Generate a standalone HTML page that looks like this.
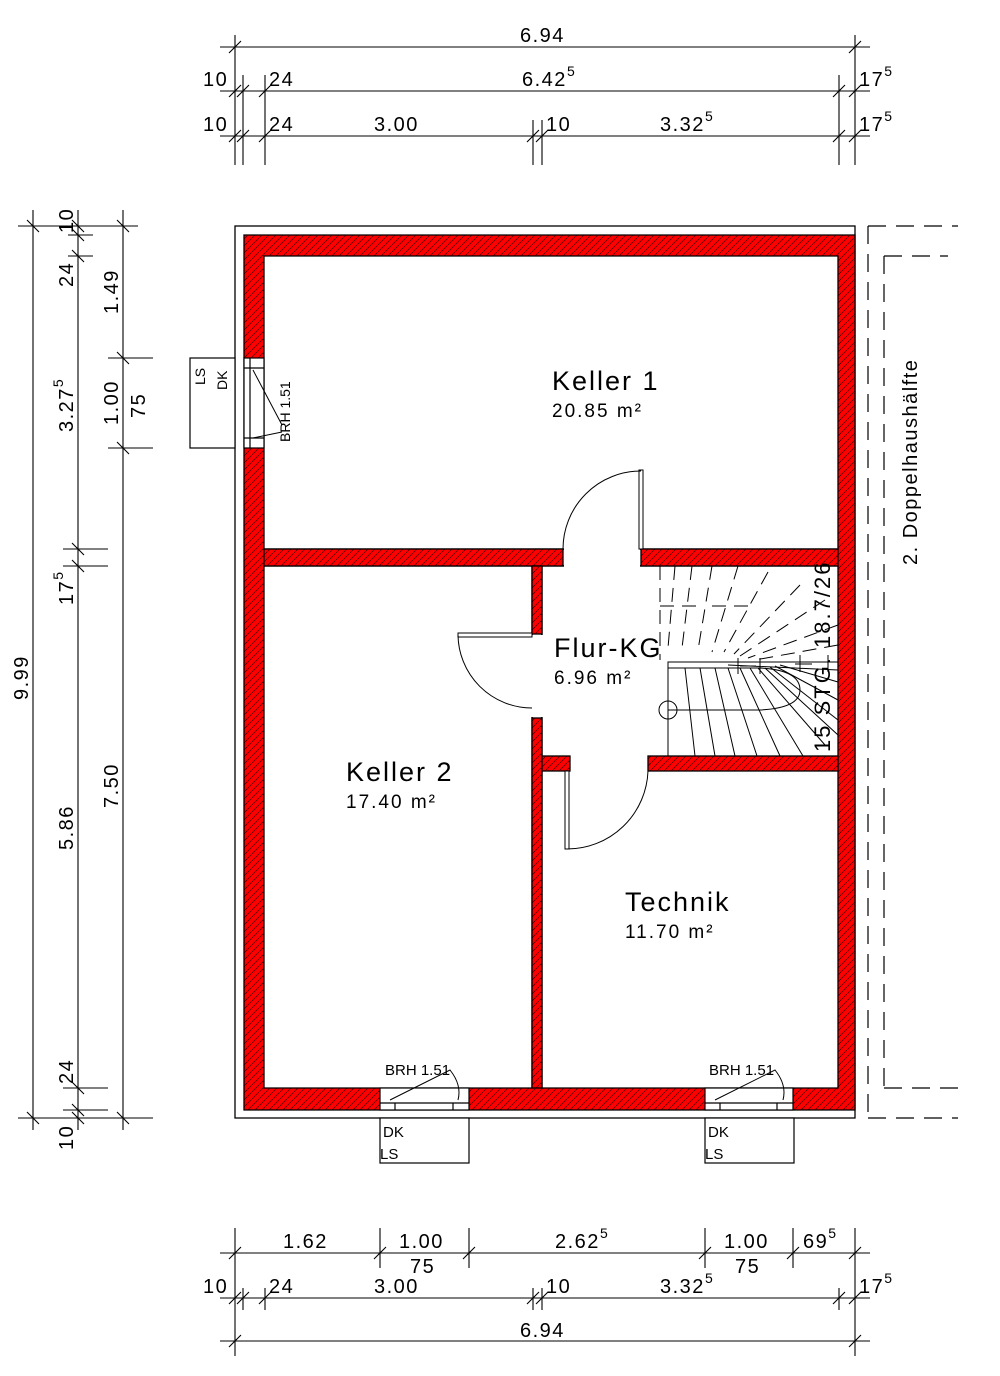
<!DOCTYPE html>
<html><head><meta charset="utf-8"><style>
html,body{margin:0;padding:0;background:#fff}
svg{display:block}
text{font-family:"Liberation Sans",sans-serif;fill:#000}
.d{font-size:20px;letter-spacing:1.5px}
.s{font-size:13px}
</style></head><body>
<svg width="1000" height="1376" viewBox="0 0 1000 1376" xmlns="http://www.w3.org/2000/svg">
<defs>
<pattern id="h" width="7" height="7" patternUnits="userSpaceOnUse">
<rect width="7" height="7" fill="#f00"/>
<path d="M0,7 L7,0" stroke="#400" stroke-width="0.7"/>
</pattern>
</defs>
<g stroke="#000" stroke-width="1.3" fill="none">
<rect x="235" y="226" width="620" height="892"/>
</g>
<g fill="url(#h)" stroke="#000" stroke-width="1.3">
<path fill-rule="evenodd" d="M244,235 H855 V1110 H244 Z M264,256 H838 V549 H264 Z M264,566 H532 V1088 H264 Z M542,566 H838 V1088 H542 Z"/>
</g>
<g fill="#fff" stroke="none">
<rect x="533" y="567" width="8" height="520"/>
<rect x="265" y="550" width="572" height="15"/>
</g>
<g fill="url(#h)" stroke="#000" stroke-width="1.3">
<rect x="264" y="549" width="299" height="17"/>
<rect x="641" y="549" width="197" height="17"/>
<rect x="532" y="566" width="10" height="68"/>
<rect x="532" y="718" width="10" height="370"/>
<rect x="542" y="756" width="28" height="15"/>
<rect x="648" y="756" width="190" height="15"/>
</g>
<g fill="#fff" stroke="none">
<rect x="564" y="547" width="76" height="21"/>
<rect x="530" y="635" width="14" height="82"/>
</g>
<g fill="#fff" stroke="#000" stroke-width="1.2">
<rect x="244" y="358" width="20" height="90"/>
<line x1="244" y1="368" x2="264" y2="368"/><line x1="244" y1="438" x2="264" y2="438"/>
<line x1="250" y1="358" x2="250" y2="448"/>
<rect x="190" y="358" width="45" height="90"/>
<rect x="380" y="1088" width="89" height="22"/>
<line x1="380" y1="1103" x2="469" y2="1103"/><line x1="395" y1="1103" x2="395" y2="1110"/><line x1="453" y1="1103" x2="453" y2="1110"/>
<rect x="380" y="1118" width="89" height="45"/>
<rect x="705" y="1088" width="88" height="22"/>
<line x1="705" y1="1103" x2="793" y2="1103"/><line x1="720" y1="1103" x2="720" y2="1110"/><line x1="777" y1="1103" x2="777" y2="1110"/>
<rect x="705" y="1118" width="89" height="45"/>
</g>
<g stroke="#000" stroke-width="1" fill="none">
<path d="M390,1100 L450,1070 Q462,1085 458,1100"/>
<path d="M715,1100 L775,1070 Q787,1085 783,1100"/>
<path d="M253,370 L282,425 M253,438 L282,432"/>
</g>
<text x="385" y="1075" style="font-size:15px">BRH 1.51</text>
<text x="709" y="1075" style="font-size:15px">BRH 1.51</text>
<text x="383" y="1137" style="font-size:15px">DK</text>
<text x="380" y="1159" style="font-size:15px">LS</text>
<text x="708" y="1137" style="font-size:15px">DK</text>
<text x="705" y="1159" style="font-size:15px">LS</text>
<text transform="translate(205,385) rotate(-90)" style="font-size:14px">LS</text>
<text transform="translate(227,390) rotate(-90)" style="font-size:14px">DK</text>
<text transform="translate(290,442) rotate(-90)" style="font-size:14px">BRH 1.51</text>
<g stroke="#000" stroke-width="1" fill="none">
<rect x="639" y="470" width="4" height="79" fill="#fff"/>
<path d="M563,549 A78,78 0 0 1 641,471"/>
<rect x="458" y="633" width="74" height="4" fill="#fff"/>
<path d="M458,634 A74,74 0 0 0 532,708"/>
<rect x="565" y="771" width="4" height="78" fill="#fff"/>
<path d="M567,849 A81,81 0 0 0 648,771"/>
</g>
<g stroke="#000" stroke-width="1" fill="none">
<path d="M668,756 V662 H838"/>
<path d="M668,668 H760 Q800,670 800,690 Q800,708 760,710 H668"/>
<circle cx="668" cy="710" r="9"/>
<path d="M685,668 L695,756 M700,668 L715,756 M715,668 L735,756 M728,668 L757,756 M740,668 L780,756 M750,668 L803,756 M758,668 L825,745 M765,668 L838,735 M770,667 L838,720 M775,666 L838,700 M780,665 L838,682"/>
<path d="M728,665 L838,670 M738,658 V674 M760,658 V674 M800,655 V672 M828,655 V672 M740,666 L756,666 M795,664 L812,664" />
<path stroke-dasharray="14,8" d="M660,566 V660 M675,566 L668,648 M692,566 L682,648 M712,566 L698,650 M738,566 L712,652 M768,572 L724,652 M800,585 L734,654 M825,600 L740,656 M838,625 L748,658 M838,645 L755,660 M660,606 H700 M712,606 H748"/>
</g>
<text transform="translate(830,752) rotate(-90)" style="font-size:22px;letter-spacing:2px">15 STG. 18.7/26</text>
<text x="552" y="390" style="font-size:27px;letter-spacing:2px">Keller 1</text>
<text x="552" y="417" style="font-size:19px;letter-spacing:2px">20.85 m²</text>
<text x="554" y="657" style="font-size:27px;letter-spacing:2px">Flur-KG</text>
<text x="554" y="684" style="font-size:19px;letter-spacing:2px">6.96 m²</text>
<text x="346" y="781" style="font-size:27px;letter-spacing:2px">Keller 2</text>
<text x="346" y="808" style="font-size:19px;letter-spacing:2px">17.40 m²</text>
<text x="625" y="911" style="font-size:27px;letter-spacing:2px">Technik</text>
<text x="625" y="938" style="font-size:19px;letter-spacing:2px">11.70 m²</text>
<g stroke="#000" stroke-width="1.2" fill="none" stroke-dasharray="18,10">
<line x1="868" y1="226" x2="868" y2="1118"/>
<line x1="884" y1="256" x2="884" y2="1088"/>
<line x1="868" y1="226" x2="958" y2="226"/>
<line x1="884" y1="256" x2="948" y2="256"/>
<line x1="884" y1="1088" x2="958" y2="1088"/>
<line x1="868" y1="1118" x2="958" y2="1118"/>
</g>
<text transform="translate(917,565) rotate(-90)" style="font-size:20px;letter-spacing:1.5px">2. Doppelhaushälfte</text>
<g stroke="#000" stroke-width="1.1">
<line x1="220" y1="47" x2="870" y2="47"/>
<line x1="220" y1="91" x2="870" y2="91"/>
<line x1="220" y1="136" x2="870" y2="136"/>
<line x1="235" y1="35" x2="235" y2="165"/>
<line x1="855" y1="35" x2="855" y2="165"/>
<line x1="243" y1="75" x2="243" y2="165"/>
<line x1="265" y1="75" x2="265" y2="165"/>
<line x1="839" y1="75" x2="839" y2="165"/>
<line x1="533" y1="120" x2="533" y2="165"/>
<line x1="542" y1="120" x2="542" y2="165"/>
<path d="M229,53 L241,41 M849,53 L861,41 M229,97 L241,85 M237,97 L249,85 M259,97 L271,85 M833,97 L845,85 M849,97 L861,85 M229,142 L241,130 M237,142 L249,130 M259,142 L271,130 M527,142 L539,130 M536,142 L548,130 M833,142 L845,130 M849,142 L861,130"/>
</g>
<text class="d" x="520" y="42">6.94</text>
<text class="d" x="203" y="86">10</text><text class="d" x="269" y="86">24</text>
<text class="d" x="522" y="86">6.42<tspan dy="-10" style="font-size:14px">5</tspan></text>
<text class="d" x="859" y="86">17<tspan dy="-10" style="font-size:14px">5</tspan></text>
<text class="d" x="203" y="131">10</text><text class="d" x="269" y="131">24</text>
<text class="d" x="374" y="131">3.00</text><text class="d" x="546" y="131">10</text>
<text class="d" x="660" y="131">3.32<tspan dy="-10" style="font-size:14px">5</tspan></text>
<text class="d" x="859" y="131">17<tspan dy="-10" style="font-size:14px">5</tspan></text>
<g stroke="#000" stroke-width="1.1">
<line x1="220" y1="1253" x2="870" y2="1253"/>
<line x1="220" y1="1298" x2="870" y2="1298"/>
<line x1="220" y1="1341" x2="870" y2="1341"/>
<line x1="235" y1="1228" x2="235" y2="1356"/>
<line x1="855" y1="1228" x2="855" y2="1356"/>
<line x1="380" y1="1228" x2="380" y2="1268"/>
<line x1="469" y1="1228" x2="469" y2="1268"/>
<line x1="705" y1="1228" x2="705" y2="1268"/>
<line x1="793" y1="1228" x2="793" y2="1268"/>
<line x1="243" y1="1288" x2="243" y2="1310"/>
<line x1="265" y1="1288" x2="265" y2="1310"/>
<line x1="533" y1="1288" x2="533" y2="1310"/>
<line x1="542" y1="1288" x2="542" y2="1310"/>
<line x1="839" y1="1288" x2="839" y2="1310"/>
<path d="M229,1259 L241,1247 M374,1259 L386,1247 M463,1259 L475,1247 M699,1259 L711,1247 M787,1259 L799,1247 M849,1259 L861,1247 M229,1304 L241,1292 M237,1304 L249,1292 M259,1304 L271,1292 M527,1304 L539,1292 M536,1304 L548,1292 M833,1304 L845,1292 M849,1304 L861,1292 M229,1347 L241,1335 M849,1347 L861,1335"/>
</g>
<text class="d" x="283" y="1248">1.62</text>
<text class="d" x="399" y="1248">1.00</text><text class="d" x="410" y="1273">75</text>
<text class="d" x="555" y="1248">2.62<tspan dy="-10" style="font-size:14px">5</tspan></text>
<text class="d" x="724" y="1248">1.00</text><text class="d" x="735" y="1273">75</text>
<text class="d" x="803" y="1248">69<tspan dy="-10" style="font-size:14px">5</tspan></text>
<text class="d" x="203" y="1293">10</text><text class="d" x="269" y="1293">24</text>
<text class="d" x="374" y="1293">3.00</text><text class="d" x="546" y="1293">10</text>
<text class="d" x="660" y="1293">3.32<tspan dy="-10" style="font-size:14px">5</tspan></text>
<text class="d" x="859" y="1293">17<tspan dy="-10" style="font-size:14px">5</tspan></text>
<text class="d" x="520" y="1337">6.94</text>
<g stroke="#000" stroke-width="1.1">
<line x1="33" y1="210" x2="33" y2="1130"/>
<line x1="78" y1="210" x2="78" y2="1130"/>
<line x1="123" y1="210" x2="123" y2="1130"/>
<line x1="18" y1="226" x2="138" y2="226"/>
<line x1="18" y1="1118" x2="153" y2="1118"/>
<line x1="68" y1="235" x2="93" y2="235"/>
<line x1="68" y1="256" x2="93" y2="256"/>
<line x1="63" y1="549" x2="108" y2="549"/>
<line x1="63" y1="566" x2="108" y2="566"/>
<line x1="63" y1="1088" x2="108" y2="1088"/>
<line x1="63" y1="1110" x2="108" y2="1110"/>
<line x1="108" y1="358" x2="153" y2="358"/>
<line x1="108" y1="448" x2="153" y2="448"/>
<path d="M27,220 L39,232 M72,220 L84,232 M117,220 L129,232 M72,229 L84,241 M72,250 L84,262 M72,543 L84,555 M72,560 L84,572 M72,1082 L84,1094 M72,1104 L84,1116 M72,1112 L84,1124 M27,1112 L39,1124 M117,1112 L129,1124 M117,352 L129,364 M117,442 L129,454"/>
</g>
<text class="d" transform="translate(73,233) rotate(-90)">10</text>
<text class="d" transform="translate(73,287) rotate(-90)">24</text>
<text class="d" transform="translate(118,314) rotate(-90)">1.49</text>
<text class="d" transform="translate(73,432) rotate(-90)">3.27<tspan dy="-10" style="font-size:14px">5</tspan></text>
<text class="d" transform="translate(118,425) rotate(-90)">1.00</text>
<text class="d" transform="translate(145,418) rotate(-90)">75</text>
<text class="d" transform="translate(73,605) rotate(-90)">17<tspan dy="-10" style="font-size:14px">5</tspan></text>
<text class="d" transform="translate(28,700) rotate(-90)">9.99</text>
<text class="d" transform="translate(118,808) rotate(-90)">7.50</text>
<text class="d" transform="translate(73,850) rotate(-90)">5.86</text>
<text class="d" transform="translate(73,1084) rotate(-90)">24</text>
<text class="d" transform="translate(73,1150) rotate(-90)">10</text>
</svg>
</body></html>
